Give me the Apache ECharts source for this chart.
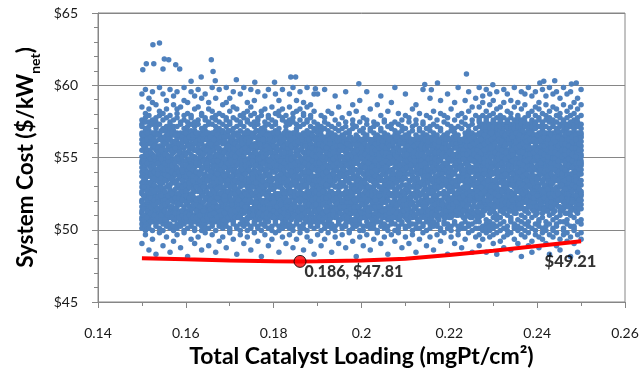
<!DOCTYPE html>
<html><head><meta charset="utf-8">
<script src="https://cdn.jsdelivr.net/npm/echarts@6/dist/echarts.min.js"></script>
<style>html,body{margin:0;padding:0;background:#fff}#c{width:639px;height:370px}</style>
</head><body><div id="c"></div>
<script>
// ---- axis ranges / ticks ----
const xTickMin = 0.14, xTickMax = 0.26, xTickStep = 0.02;
const yTickMin = 45, yTickMax = 65, yTickStep = 5;

// ---- Monte-Carlo cloud ----
// one string per x-column; each 2-digit code c is a system cost of yBase + c*yUnit ($/kWnet)
const yBase = 48, yUnit = 0.15;
const colsA_x0 = 0.15, colsB_x0 = 0.1504, colDX = 0.0008;
const cloudColsA = [
"07 14 16 21 45 33 58 19 27 50 38 24 55 42 30 18 47 35 53 26 40 22 57 31 44 62 64 61 70 76",
"11 15 13 36 20 52 29 43 17 56 39 25 48 34 59 23 46 28 51 37 19 54 41 32 49 60 65 63 67 78",
"04 16 14 25 49 31 57 22 40 18 53 35 28 45 20 59 38 26 50 33 43 55 24 47 30 61 66 63 69 74",
"09 13 17 44 27 58 21 36 51 19 39 29 55 42 23 48 32 53 26 46 37 18 56 34 41 64 62 72 77",
"02 15 16 33 52 24 41 18 57 29 47 36 22 54 39 27 60 20 44 31 50 25 38 45 58 63 61 65 71",
"12 14 17 28 46 35 55 20 42 31 58 23 49 38 26 52 19 44 33 57 40 29 48 22 36 62 66 68 79",
"06 16 13 39 21 54 30 47 18 59 26 43 35 51 23 41 56 28 37 49 20 45 32 53 25 60 64 67 76",
"10 15 17 48 24 36 57 19 42 30 53 27 45 21 38 50 33 59 25 46 40 18 55 29 44 61 65 69 73",
"03 14 16 31 55 22 45 37 19 52 28 41 58 24 34 47 20 39 56 27 43 32 50 23 60 63 62 66 78",
"08 13 15 23 40 51 18 35 57 29 46 21 38 54 31 43 26 49 19 59 36 44 28 53 41 64 61 71 75",
"11 16 14 50 27 39 20 56 33 45 24 58 30 42 19 52 36 28 47 22 55 34 40 25 61 65 67 69 77",
"05 15 17 34 19 47 57 26 41 22 53 37 29 49 18 44 32 58 25 39 51 21 46 30 56 62 63 70",
"12 13 16 42 58 22 35 48 18 31 54 27 45 38 20 60 33 51 24 40 29 56 37 23 49 64 66 73 79",
"01 17 14 27 44 53 20 37 59 25 41 32 49 19 55 35 28 46 22 52 39 30 57 43 26 61 63 72 67",
"09 15 16 55 30 21 46 38 57 24 43 18 51 34 27 48 41 20 59 36 45 23 53 29 39 62 65 66 77",
"07 14 13 20 38 50 26 56 33 44 19 59 31 47 23 53 40 28 45 17 55 35 42 25 50 63 61 69 75",
"10 16 17 46 23 35 58 28 52 19 40 31 55 25 43 37 21 49 33 57 27 44 18 51 38 64 62 70 78",
"04 13 15 31 53 19 42 24 48 36 58 22 45 29 54 39 26 50 17 41 34 56 21 47 30 60 66 67 74",
"12 16 14 57 33 44 21 50 27 39 55 18 46 31 24 52 37 59 20 43 28 49 35 23 42 61 64 65 76",
"06 14 17 24 49 36 19 56 30 43 22 53 38 27 47 20 58 33 41 25 51 45 29 55 37 63 62 69 72",
"11 15 16 39 22 54 32 45 18 58 28 41 50 24 36 20 47 55 30 43 26 52 34 21 57 62 65 68 79",
"03 13 17 52 27 19 43 35 57 23 48 31 40 55 21 37 46 29 53 18 44 33 59 25 38 64 61 66 74",
"08 16 15 30 46 58 24 37 20 51 33 44 27 56 19 41 35 49 22 54 28 47 39 17 50 60 63 67 78",
"10 14 16 47 21 38 55 29 43 18 59 32 50 25 36 53 23 45 40 20 57 31 48 27 42 62 66 71",
"05 15 17 26 51 35 20 44 57 30 39 22 53 46 28 34 49 19 56 37 24 42 31 58 45 61 64 65 72 79",
"12 13 14 41 19 56 34 28 48 23 52 38 45 21 59 31 43 26 54 36 18 50 29 47 33 63 62 68 74",
"09 16 17 53 25 44 31 57 20 40 35 49 18 46 27 55 38 22 51 42 30 58 24 37 45 60 65 70 77",
"02 14 15 35 58 22 47 39 19 54 29 43 26 50 36 21 57 32 45 24 52 40 28 48 20 64 61 69",
"11 16 13 22 43 52 27 37 56 20 45 33 59 25 41 30 48 19 54 36 23 50 39 28 46 62 63 66 76",
"07 15 17 48 30 18 55 41 24 37 51 28 44 21 58 34 26 47 39 53 22 42 31 56 35 61 65 67 79",
"10 13 16 37 56 24 42 19 50 31 46 27 57 35 22 52 40 29 44 18 54 33 49 25 59 63 64 68 72",
"04 14 15 55 21 40 33 47 58 26 38 20 51 43 29 56 35 23 48 31 53 19 45 37 27 62 66 70 78",
"12 16 17 29 45 53 22 36 19 49 41 56 26 33 47 21 58 38 30 52 24 43 35 50 20 61 63 67 73",
"08 15 14 43 26 35 59 21 48 30 54 18 40 45 28 51 23 37 56 33 46 20 53 39 25 64 62 65 77",
"01 13 16 51 34 20 46 57 27 42 23 38 55 30 49 19 44 36 58 25 41 32 53 22 47 60 66 68",
"11 16 15 24 57 39 30 44 21 52 35 47 27 59 18 41 33 50 26 55 38 22 45 31 54 63 61 69 75",
"06 14 17 38 20 50 43 28 55 34 19 46 31 58 24 39 53 22 44 36 49 27 57 30 42 62 65 66 78",
"09 15 13 56 29 37 23 49 41 19 53 32 45 26 58 36 21 51 40 28 47 34 55 24 43 61 64 70",
"12 17 16 33 48 25 57 21 40 52 30 44 18 55 37 27 49 23 42 59 34 46 20 51 29 63 62 67 76",
"03 13 15 46 22 54 35 30 58 26 43 20 50 38 24 47 33 56 19 41 53 28 45 36 57 60 66 68 73",
"10 16 14 27 53 19 44 38 23 51 35 57 29 42 48 21 55 32 40 25 52 37 18 46 31 64 65 69 78",
"07 15 17 59 31 42 25 50 36 20 47 28 56 39 22 53 44 30 49 18 57 34 26 45 38 61 63 66",
"11 14 16 20 45 56 33 27 52 41 19 48 35 24 58 30 43 54 22 38 49 26 51 32 55 62 64 70 76",
"05 13 15 41 24 37 55 19 46 31 58 25 42 34 51 21 47 28 56 39 23 53 36 44 29 63 65 67 79",
"09 16 17 54 28 21 49 43 35 57 23 40 30 52 45 19 36 55 27 48 33 59 24 41 50 60 62 68 73",
"12 15 14 32 57 44 20 38 53 26 47 22 55 34 41 29 50 18 45 37 24 56 31 43 27 64 61 69 77",
"04 14 16 45 19 30 52 24 58 39 33 49 21 43 27 55 36 46 20 53 28 40 57 35 22 62 66 67 72",
"10 17 13 23 50 36 42 57 28 19 54 37 45 25 48 31 59 22 41 33 52 26 44 38 56 63 64 70 79",
"08 15 16 49 35 26 55 20 44 31 58 24 40 51 29 46 18 53 36 27 47 39 21 57 42 61 65 66 71",
"02 14 17 36 22 47 33 56 25 41 52 19 38 45 28 59 31 50 23 43 35 55 26 48 30 60 63 68 76",
"11 15 16 42 27 53 20 35 48 31 56 23 44 38 18 51 29 46 33 55 25 40 36 21 58 62 60 76",
"06 13 17 26 49 34 19 54 40 28 45 22 52 37 30 47 24 55 32 43 20 50 39 57 61 59 66",
"09 16 14 51 22 38 45 29 56 19 41 33 50 25 47 36 21 53 31 44 27 55 40 60 63 65 78",
"12 15 17 33 55 24 43 18 49 37 28 52 41 21 46 30 54 26 39 48 23 35 51 57 59 62 68",
"03 14 16 47 20 36 53 27 42 31 56 24 39 50 19 45 34 22 52 29 43 37 55 58 61 67",
"10 13 15 24 44 52 30 19 48 38 55 26 41 33 53 21 46 28 36 50 23 42 54 60 57 64 75",
"07 16 17 38 56 29 21 46 34 51 25 43 18 54 37 31 49 22 40 53 27 45 33 59 62 70",
"11 14 15 53 26 41 35 19 50 30 44 23 55 38 27 47 20 52 34 42 25 56 39 57 60 65",
"05 15 16 21 47 37 54 28 43 18 51 33 24 49 40 29 55 22 45 36 31 53 26 61 58 63 77",
"12 17 13 45 31 23 52 40 20 56 35 27 48 42 19 53 30 44 25 51 37 22 46 58 59 67",
"08 14 16 30 54 43 25 37 49 21 46 29 55 34 23 50 39 18 47 32 53 27 41 60 62 64 71",
"01 15 17 49 22 35 56 28 44 20 52 38 31 47 24 54 41 26 36 51 19 45 33 57 61 68",
"10 16 13 35 52 20 41 47 27 55 32 24 50 43 18 46 29 53 37 22 48 30 55 59 63 73",
"06 13 15 55 28 46 19 39 51 33 22 48 36 54 25 42 30 50 21 44 35 27 52 58 60 65",
"11 15 17 27 43 50 34 21 56 40 29 45 19 52 37 24 49 32 55 26 41 47 31 62 57 64 77",
"04 14 16 40 19 55 31 48 24 44 36 53 28 21 50 38 46 23 54 33 42 29 51 60 59 69",
"09 16 14 52 33 26 46 20 55 37 30 49 23 43 54 18 39 47 28 51 35 25 45 61 58 63",
"12 13 17 20 48 38 55 30 42 25 52 34 19 46 40 28 53 22 44 36 50 27 56 57 62 71",
"07 17 15 44 25 53 36 22 49 31 56 41 27 47 20 51 33 45 24 54 38 29 42 59 60 66 75",
"10 14 16 36 54 21 43 50 28 39 23 55 32 46 19 52 40 26 48 34 56 30 44 58 63 64",
"02 15 13 51 29 40 18 47 35 54 24 43 31 50 22 45 37 53 27 41 21 49 33 61 57 68",
"11 16 17 23 46 33 56 38 20 52 29 44 36 25 49 41 55 30 19 47 35 53 26 60 62 72",
"08 13 16 48 37 27 51 19 45 31 55 24 42 35 50 21 44 28 54 39 23 46 32 57 59 63 79",
"12 15 14 29 53 44 22 36 49 26 40 56 33 18 48 38 25 52 42 30 45 20 51 62 58 67",
"05 16 17 55 21 38 46 31 53 27 43 20 50 34 24 47 39 56 29 41 22 54 36 59 61 64",
"10 14 15 34 47 24 55 41 19 51 30 45 26 53 37 22 49 32 43 28 56 39 20 60 57 66 76",
"07 15 17 46 20 52 33 28 44 56 25 39 48 31 21 54 36 42 27 50 34 23 47 58 63 65",
"11 13 16 22 50 37 43 19 55 30 46 25 52 40 33 48 21 44 29 54 38 26 51 61 59 69",
"03 16 14 53 32 45 24 40 50 28 36 55 20 47 31 42 23 52 37 19 49 34 44 57 62 64 71",
"09 14 17 39 56 26 48 21 35 52 43 29 46 18 54 33 41 25 50 30 45 22 53 59 60 67",
"12 15 16 25 44 51 30 55 20 41 34 49 27 53 38 22 46 31 56 24 43 36 48 62 58 63 78",
"06 17 13 50 23 37 47 32 54 19 43 28 51 40 25 55 35 21 45 29 52 38 42 60 57 66",
"10 14 16 31 55 41 20 46 27 52 36 23 49 33 44 18 53 39 26 47 30 56 22 59 61 65 74",
"04 15 17 47 26 33 53 22 40 49 29 56 35 43 21 51 37 24 45 31 54 28 41 58 62 68",
"11 16 15 21 52 44 36 29 55 24 48 38 19 46 32 53 41 27 50 34 22 43 56 61 57 64",
"08 13 14 54 35 27 49 40 23 51 30 45 37 20 55 42 26 48 33 52 24 39 46 60 59 67 73",
"12 16 17 37 21 50 43 31 56 25 47 34 53 28 41 19 49 36 44 23 54 30 40 57 63 66",
"02 14 16 44 30 55 24 48 35 20 52 39 27 46 33 51 22 43 56 29 37 50 25 62 58 65 76",
"10 15 13 28 49 36 53 22 42 31 55 26 45 38 19 50 34 47 24 41 54 32 20 59 61 69",
"07 17 16 52 25 45 33 56 21 39 48 29 54 36 23 43 51 27 46 30 40 55 35 58 60 64 72",
"11 13 15 35 53 20 47 38 27 51 42 24 55 31 45 22 49 37 29 53 26 44 33 61 57 66 79",
"05 16 14 49 27 41 55 23 36 46 30 52 20 43 38 54 25 48 32 21 50 40 28 60 63 67",
"09 14 17 23 47 33 51 44 19 56 37 28 49 41 26 53 35 22 45 31 55 39 24 58 62 65 73",
"12 15 16 45 31 54 26 39 50 22 43 35 57 29 47 20 52 38 25 46 33 55 41 59 61 68 77",
"03 16 13 56 22 40 34 48 28 53 19 45 31 51 37 24 49 42 27 54 36 21 47 62 58 64 70",
"10 14 17 32 51 27 45 21 55 38 42 30 48 24 53 35 20 46 40 28 52 33 44 57 60 66 74",
"06 11 14 17 21 19 38 55 27 46 33 58 41 25 50 36 29 53 44 31 57 24 48 39 35 52 61 64 63 65 70 79",
"09 15 13 20 22 47 29 56 35 42 26 51 38 59 31 45 24 54 40 28 49 33 57 43 37 62 60 66 72 75",
"03 12 16 18 23 14 52 25 41 58 34 47 30 55 39 27 50 44 23 56 36 48 32 59 42 63 65 61 64 68 78",
"10 13 17 21 15 33 49 26 57 38 45 29 53 41 24 51 35 58 46 27 40 55 31 48 36 60 62 66 71 76",
"07 11 14 19 22 16 44 28 54 36 50 25 59 40 32 47 23 56 39 43 52 30 58 34 49 61 64 63 67 73",
"02 12 15 18 20 56 31 42 24 51 37 47 28 58 33 45 54 26 39 50 29 44 57 35 41 62 60 65 69 77",
"08 13 16 22 19 27 53 40 46 30 57 35 24 50 43 55 29 38 48 25 59 32 45 37 52 63 61 66 64 70",
"05 10 14 17 21 48 34 58 26 43 52 31 39 56 24 46 37 51 28 54 41 33 47 23 57 60 62 65 72 78",
"11 15 13 20 23 39 55 29 47 35 60 27 43 50 32 56 25 45 38 53 30 48 58 41 34 64 61 63 68 76",
"04 12 17 19 22 18 51 36 44 25 57 40 31 53 47 28 59 34 42 24 49 37 55 30 46 61 65 62 67 73",
"09 14 16 21 15 30 46 54 38 27 51 43 33 58 25 49 36 44 56 29 40 52 23 47 35 62 60 64 70 79",
"07 13 15 18 23 57 28 41 49 34 55 24 45 38 52 31 59 26 43 36 50 27 54 40 32 63 61 66 65 72",
"01 11 14 20 17 42 52 30 58 37 46 24 55 33 41 28 50 35 57 44 26 48 39 53 31 60 64 62 69 77",
"10 16 13 22 19 35 48 26 53 43 29 56 39 47 23 51 32 45 58 37 28 54 41 34 49 61 63 65 71 76",
"06 12 15 17 21 50 25 44 36 59 30 48 41 53 27 38 55 33 46 24 57 35 43 29 52 62 60 67 66 79",
"03 08 14 19 23 28 56 39 47 32 51 25 43 58 36 49 30 54 40 26 45 37 59 33 48 64 61 63 68 75",
"11 13 16 20 22 45 33 55 27 50 38 24 52 42 31 57 35 46 29 53 41 25 48 36 60 63 62 66 70 77",
"05 10 17 18 15 37 54 30 46 25 58 41 34 49 27 56 38 44 23 51 32 47 55 40 29 61 65 64 69 72",
"09 12 14 21 19 53 28 42 57 35 47 24 51 39 32 55 26 45 36 59 30 49 43 27 54 62 60 63 67 78",
"07 13 15 17 22 26 49 38 55 31 44 52 28 40 57 34 47 24 53 37 29 50 42 58 33 64 61 66 71 75",
"02 11 16 20 23 41 57 33 48 26 53 37 45 29 56 39 31 51 43 25 58 35 47 30 54 60 63 65 68 79",
"10 14 13 18 21 32 47 56 24 43 38 51 30 58 27 45 35 53 41 28 49 23 55 37 44 61 62 64 70 76",
"06 12 15 19 16 55 29 44 36 52 25 48 40 57 33 46 27 54 38 31 50 42 59 26 47 63 60 66 69 77",
"04 09 17 22 20 39 51 27 58 34 46 30 55 41 24 49 37 53 28 45 33 57 43 35 52 62 65 61 67 74",
"11 13 14 17 23 47 35 53 29 42 56 24 50 38 33 59 27 45 40 54 31 48 36 26 51 64 61 63 71 79",
"08 12 16 21 18 24 54 41 33 49 28 57 37 45 52 30 43 26 55 39 47 32 58 35 50 60 62 65 68 76",
"01 10 15 20 22 58 31 46 39 53 25 44 35 56 28 50 42 33 48 24 55 37 45 29 52 61 63 66 70 77",
"07 13 14 19 15 36 50 27 44 57 32 48 40 23 54 34 46 29 52 38 59 26 43 51 41 62 64 60 67 72",
"03 11 17 22 21 45 26 55 38 49 30 58 35 42 53 24 47 37 56 31 44 28 51 40 33 63 61 65 69 74",
"09 12 16 18 23 29 52 43 34 57 27 48 39 54 31 45 25 50 41 56 36 47 30 58 44 60 62 66 71 78"
];
// second, interleaved set of columns inside the dense core
const cloudColsB = [
"23 41 52 18 36 47 29 57 33 20 45 54","38 26 55 44 19 31 50 27 58 40 22 48","30 49 21 42 56 35 17 46 28 53 39 24",
"52 34 25 47 40 58 20 31 43 27 55 37","19 44 36 28 51 23 57 41 32 49 26 39","46 29 55 37 20 42 33 59 24 50 18 35",
"27 53 39 22 48 31 44 18 56 36 41 25","41 20 34 57 26 45 38 52 29 21 47 55","35 48 24 43 30 54 19 37 58 27 40 50",
"54 23 46 32 18 39 51 28 44 35 57 21","28 40 57 21 49 34 25 53 38 46 30 19","47 36 20 52 27 43 56 31 22 41 54 33",
"21 55 31 45 38 19 48 26 58 34 43 29","39 27 50 33 56 24 42 20 35 52 28 46","56 32 19 41 29 51 36 47 23 57 38 25",
"25 46 37 54 22 33 58 40 27 44 19 50","44 21 53 28 39 47 24 55 32 20 49 36","33 57 26 48 42 18 37 51 29 45 55 22",
"50 38 43 20 31 55 28 44 19 36 41 58","20 49 34 56 25 40 53 23 47 30 38 27","37 24 58 31 45 21 50 35 42 26 55 18",
"53 42 28 39 19 48 32 57 24 51 36 45","26 35 47 22 54 37 20 43 30 56 41 33","42 56 18 50 33 27 46 38 21 49 29 54",
"31 19 44 36 57 52 24 48 40 23 34 59","48 30 54 25 41 20 38 56 27 45 33 22","22 51 33 45 28 57 41 19 53 36 47 30",
"57 27 40 19 49 35 23 52 44 31 56 38","34 45 25 53 37 22 55 29 41 18 50 43","45 22 49 30 55 43 27 36 58 24 39 51",
"29 58 36 41 21 50 33 46 20 54 27 44","51 33 20 47 39 26 57 23 45 37 52 30","24 43 56 28 52 31 40 18 49 35 59 26",
"40 18 37 55 24 46 29 53 32 42 21 57","55 36 48 23 33 58 44 26 38 20 47 30","19 52 29 43 50 35 21 57 26 48 41 34",
"43 25 57 38 20 45 32 49 55 23 36 51","32 47 22 54 40 28 52 19 44 37 58 26","58 29 41 35 47 21 38 55 24 51 30 43",
"27 54 45 19 36 56 25 42 49 33 22 39","49 37 23 52 30 44 58 28 35 21 55 41","36 20 51 42 57 27 46 33 19 53 39 24",
"23 46 34 29 49 55 18 40 52 31 43 57","53 31 56 24 38 20 47 26 44 58 29 35","38 50 27 45 22 41 33 57 30 48 19 54",
"20 42 55 33 51 28 39 23 56 36 46 30","47 26 38 57 29 53 21 44 34 40 52 18","30 55 22 40 46 35 58 31 25 49 37 43",
"56 34 48 21 42 24 51 38 57 27 32 45","25 44 31 53 19 47 36 55 22 41 50 28",
"41 23 50 32 55 27 44 19 36 48 30 53","28 46 35 21 52 39 25 56 42 31 18 47","54 33 19 43 28 49 37 24 51 40 22 34",
"36 20 48 55 31 42 26 53 29 45 38 18","22 51 40 27 46 34 56 20 39 30 49 43","47 30 25 52 37 19 44 33 55 23 41 28",
"33 55 43 18 50 29 38 47 24 52 35 21","19 38 54 30 24 45 51 27 41 35 56 46","50 26 31 47 39 22 54 36 19 43 28 53",
"29 44 21 56 33 48 23 40 52 26 37 31","45 18 37 41 27 53 32 49 22 55 44 24","24 52 46 34 20 39 56 28 45 31 50 36",
"55 35 27 49 43 25 19 51 33 40 21 47","38 21 53 23 48 31 42 35 56 28 45 19","20 47 33 39 55 44 27 22 50 37 30 52",
"51 29 42 26 36 18 49 54 31 46 23 40","31 41 56 21 28 50 35 45 24 53 38 27","43 24 30 53 46 37 20 33 55 29 48 51",
"26 54 39 44 19 32 52 41 27 36 22 49","49 36 22 31 51 26 45 56 38 20 42 34","35 19 48 55 40 23 30 47 21 52 33 44",
"53 45 26 37 22 54 41 29 50 34 19 39","21 32 51 42 35 47 24 55 30 44 56 25","46 27 38 20 53 33 50 19 43 26 39 54",
"30 50 44 25 31 56 22 37 48 53 27 41","56 23 34 48 42 20 39 52 25 32 45 18","25 43 55 29 19 46 33 28 54 41 36 50",
"40 52 20 36 47 30 55 23 34 49 24 45","18 37 29 53 26 42 48 39 21 56 31 33","48 30 45 22 56 35 27 51 40 19 52 43",
"34 55 24 40 32 51 19 44 29 47 38 26","52 20 41 49 27 38 54 31 46 22 35 56","27 46 36 19 44 24 31 55 37 50 42 21",
"44 33 53 28 38 55 46 20 25 41 29 49","23 49 18 45 52 30 36 42 54 33 26 39","39 26 47 34 21 43 56 25 48 37 51 30",
"55 41 30 51 35 22 28 47 19 44 53 36","32 19 52 38 46 27 40 33 55 24 49 42","47 35 25 56 20 48 23 53 31 39 28 45",
"20 53 43 30 41 34 51 26 44 56 36 22","42 28 36 47 54 21 45 38 23 50 32 55","29 50 22 39 25 55 33 48 41 19 46 37",
"54 38 48 24 33 44 20 30 52 36 27 43","36 22 31 55 46 29 52 42 27 49 40 19","24 45 40 21 50 37 26 56 34 30 53 48",
"50 31 54 43 28 19 47 35 22 41 38 29",
"37 52 28 45 58 33 24 49 41 55 30 46","53 26 41 35 22 50 46 31 57 39 27 44","29 47 56 23 38 43 54 27 34 51 45 36",
"44 33 25 51 47 28 39 58 22 42 55 31","24 56 40 30 53 36 21 45 49 33 27 52","51 38 48 43 26 57 32 24 40 55 46 29",
"35 22 54 27 44 31 50 38 58 25 41 47","57 45 33 52 39 23 46 29 35 49 53 26","26 41 29 47 55 37 25 53 43 31 22 58",
"48 30 57 36 24 50 42 34 27 56 39 45","32 54 23 42 31 46 58 21 51 37 44 28","55 36 44 25 49 28 35 47 40 23 57 52",
"23 49 38 56 34 53 27 43 30 59 26 41","42 27 52 31 45 22 56 36 48 33 39 54","58 34 26 48 38 41 30 55 24 46 51 29",
"30 51 45 22 57 35 49 26 42 28 55 38","46 24 35 54 29 47 21 50 37 57 33 43","27 43 58 39 52 25 41 32 55 44 23 49",
"52 37 29 46 23 56 34 48 28 40 58 31","36 55 41 27 50 32 45 22 53 38 47 25","49 28 53 34 42 24 57 39 26 51 35 44",
"25 46 32 57 37 49 29 54 44 22 41 56","56 40 24 43 31 52 36 27 48 59 30 45","33 22 50 38 55 28 47 42 23 53 39 34",
"45 53 36 26 48 41 25 57 32 44 50 21","28 35 55 49 24 37 52 30 46 27 43 58","54 42 27 31 56 45 23 39 51 34 26 48",
"38 57 44 22 33 51 29 55 40 47 36 24","41 25 49 53 27 39 58 35 23 50 44 32"
];

// isolated high points read individually [loading, $/kWnet]
const outliers = [
[0.1525,62.81],[0.1540,62.93],[0.1551,61.82],[0.1561,61.77],[0.1510,61.49],[0.1527,61.49],
[0.1658,61.77],[0.1662,60.96],[0.1577,61.42],[0.1586,61.13],[0.1502,61.08],[0.1548,61.13],
[0.1635,60.57],[0.1715,60.38],[0.1757,60.20],[0.1802,60.20],[0.1839,60.57],[0.1850,60.57],
[0.1612,60.27],[0.1667,60.32],[0.1994,60.11],[0.2144,60.06],[0.2173,60.16],[0.1895,59.76],
[0.2159,59.69],[0.2239,60.78],[0.2299,60.04],[0.2406,60.16],[0.2415,60.27],[0.2440,60.32],
[0.2489,60.16],[0.2478,60.09]
];

// minimum-cost frontier (red line)
const frontierX = [0.150, 0.160, 0.170, 0.180, 0.186, 0.190, 0.200, 0.210, 0.220, 0.230, 0.240, 0.250];
const frontierY = [48.03, 47.95, 47.88, 47.82, 47.81, 47.82, 47.88, 48.00, 48.25, 48.55, 48.88, 49.21];
const minPoint = [0.186, 47.81];
const minLabel = "0.186, $47.81";
const endLabel = "$49.21";

const xTitle = "Total Catalyst Loading (mgPt/cm\u00B2)";
const yTitleMain = "System Cost ($/kW", yTitleSub = "net";

// ---- build ----
const cloud = [];
function addCols(cols, x0) {
  cols.forEach((col, i) => {
    const x = x0 + i * colDX;
    col.trim().split(/\s+/).forEach(c => cloud.push([x, yBase + parseInt(c, 10) * yUnit]));
  });
}
addCols(cloudColsA, colsA_x0);
addCols(cloudColsB, colsB_x0);
outliers.forEach(p => cloud.push(p));
const frontier = frontierX.map((x, i) => [x, frontierY[i]]);
const lastPt = frontier[frontier.length - 1];

const FONT = 'Lato';
const axisGray = '#868686';
const chart = echarts.init(document.getElementById('c'), null, {renderer: 'canvas'});
chart.setOption({
  animation: false,
  backgroundColor: '#fff',
  grid: {left: 98, right: 14, top: 13, bottom: 68, show: true, borderColor: axisGray, borderWidth: 1, containLabel: false, outerBoundsMode: 'none'},
  xAxis: {
    type: 'value', min: xTickMin, max: xTickMax, interval: xTickStep,
    name: xTitle, nameLocation: 'middle', nameGap: 42,
    nameTextStyle: {fontFamily: FONT, fontWeight: 'bold', fontSize: 23, color: '#000'},
    axisLine: {show: true, lineStyle: {color: axisGray, width: 1}},
    axisTick: {show: true, inside: false, length: 6, lineStyle: {color: axisGray}},
    minorTick: {show: true, splitNumber: 2, length: 4, lineStyle: {color: axisGray}},
    axisLabel: {fontFamily: FONT, fontSize: 14, color: '#1a1a1a', margin: 24},
    splitLine: {show: false}
  },
  yAxis: {
    type: 'value', min: yTickMin, max: yTickMax, interval: yTickStep,
    name: '{a|' + yTitleMain + '}{s|' + yTitleSub + '}{a|)}', nameLocation: 'middle', nameGap: 56, nameRotate: 90,
    nameTextStyle: {rich: {
      a: {fontFamily: FONT, fontWeight: 'bold', fontSize: 22.5, color: '#000', lineHeight: 27, verticalAlign: 'bottom'},
      s: {fontFamily: FONT, fontWeight: 'bold', fontSize: 14, color: '#000', lineHeight: 27, verticalAlign: 'bottom', padding: [0, 0, -5, 0]}
    }},
    axisLine: {show: true, lineStyle: {color: axisGray, width: 1}},
    axisTick: {show: true, inside: false, length: 6, lineStyle: {color: axisGray}},
    minorTick: {show: true, splitNumber: 5, length: 4, lineStyle: {color: axisGray}},
    axisLabel: {fontFamily: FONT, fontSize: 14, color: '#1a1a1a', margin: 20, formatter: v => '$' + v},
    splitLine: {show: true, lineStyle: {color: axisGray, width: 1}}
  },
  series: [
    {type: 'scatter', data: cloud, symbolSize: 5.5, itemStyle: {color: '#4F81BD', opacity: 1}, silent: true, z: 2},
    {type: 'line', data: frontier, symbol: 'none', smooth: false, lineStyle: {color: '#FF0000', width: 4}, z: 3},
    {type: 'scatter', data: [lastPt], symbolSize: 1, itemStyle: {color: 'rgba(0,0,0,0)'}, z: 4,
      label: {show: true, formatter: endLabel, position: [-36, 13], align: 'left', verticalAlign: 'top',
        fontFamily: FONT, fontWeight: 900, fontSize: 16.5, color: '#000'}},
    {type: 'scatter', data: [minPoint], symbolSize: 12, itemStyle: {color: '#FF0000', borderColor: '#000', borderWidth: 1}, z: 5,
      label: {show: true, formatter: minLabel, position: [11, 9], align: 'left', verticalAlign: 'top',
        fontFamily: FONT, fontWeight: 900, fontSize: 16, color: '#000'}}
  ]
});
</script>
</body></html>
